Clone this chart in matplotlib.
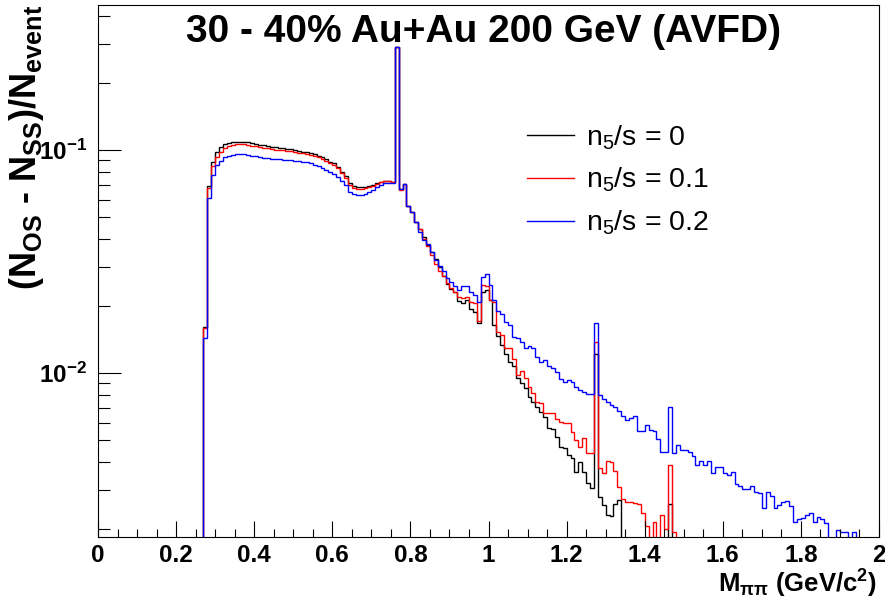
import numpy as np
import matplotlib
matplotlib.use("Agg")
import matplotlib.pyplot as plt
from matplotlib.ticker import MultipleLocator, LogLocator, FuncFormatter, NullFormatter

plt.rcParams["font.family"] = ["Liberation Sans", "DejaVu Sans"]
plt.rcParams["font.weight"] = "bold"
plt.rcParams["mathtext.default"] = "regular"

# histogram binning: 200 bins of 0.01 GeV/c^2, first filled bin is 0.27-0.28
n_bins = 200
m_min, m_max = 0.0, 2.0
first_bin = 27

# (N_OS - N_SS)/N_event per bin, starting at first_bin, empty bins are 0
black = [0.0161, 0.0692, 0.0883, 0.0980, 0.1028, 0.1061, 0.1075, 0.1083, 0.1090, 0.1090,
         0.1090, 0.1086, 0.1075, 0.1064, 0.1053, 0.1050, 0.1042, 0.1035, 0.1028, 0.1024,
         0.1018, 0.1010, 0.1007, 0.1000, 0.0990, 0.0983, 0.0977, 0.0967, 0.0957, 0.0943,
         0.0927, 0.0908, 0.0886, 0.0872, 0.0842, 0.0799, 0.0765, 0.0709, 0.0690, 0.0680,
         0.0680, 0.0685, 0.0690, 0.0697, 0.0709, 0.0721, 0.0726, 0.0726, 0.0721, 0.289,
         0.0667, 0.0702, 0.0563, 0.0526, 0.0475, 0.0442, 0.0407, 0.0375, 0.0349, 0.0325,
         0.0299, 0.0272, 0.0251, 0.0238, 0.0231, 0.0210, 0.0206, 0.0213, 0.0194, 0.0188,
         0.0168, 0.0231, 0.0236, 0.0213, 0.0164, 0.0146, 0.0134, 0.0122, 0.0112, 0.0107,
         0.00947, 0.00905, 0.00854, 0.00783, 0.00743, 0.00702, 0.00670, 0.00637, 0.00565, 0.00561,
         0.00518, 0.00467, 0.00459, 0.00429, 0.00417, 0.00361, 0.00400, 0.00361, 0.00322, 0.00304,
         0.0122, 0.00279, 0.00256, 0.00231, 0.00228, 0.00260, 0.00269, 0, 0, 0,
         0, 0, 0, 0, 0, 0, 0, 0, 0, 0.00258]

red = [0.0159, 0.0673, 0.0848, 0.0933, 0.0983, 0.1018, 0.1042, 0.1056, 0.1061, 0.1064,
       0.1061, 0.1053, 0.1045, 0.1039, 0.1031, 0.1024, 0.1018, 0.1010, 0.1003, 0.1000,
       0.0997, 0.0990, 0.0987, 0.0979, 0.0973, 0.0967, 0.0960, 0.0950, 0.0940, 0.0927,
       0.0911, 0.0893, 0.0872, 0.0857, 0.0828, 0.0786, 0.0747, 0.0697, 0.0675, 0.0668,
       0.0668, 0.0675, 0.0682, 0.0692, 0.0706, 0.0719, 0.0724, 0.0724, 0.0717, 0.289,
       0.0660, 0.0702, 0.0563, 0.0526, 0.0475, 0.0442, 0.0399, 0.0371, 0.0338, 0.0308,
       0.0287, 0.0272, 0.0253, 0.0241, 0.0231, 0.0219, 0.0217, 0.0219, 0.0208, 0.0206,
       0.0171, 0.0248, 0.0246, 0.0213, 0.0209, 0.0153, 0.0148, 0.0130, 0.0130, 0.0116,
       0.00980, 0.0102, 0.00947, 0.00868, 0.00816, 0.00743, 0.00736, 0.00664, 0.00664, 0.00659,
       0.00620, 0.00605, 0.00598, 0.00594, 0.00545, 0.00500, 0.00467, 0.00509, 0.00436, 0.00436,
       0.0138, 0.00374, 0.00355, 0.00404, 0.00400, 0.00363, 0.00309, 0.00271, 0.00265, 0.00263,
       0.00262, 0.00258, 0.00235, 0.00206, 0, 0.00215, 0, 0.00231, 0.00199, 0.00385,
       0.00194]

blue = [0.0144, 0.0607, 0.0773, 0.0857, 0.0895, 0.0927, 0.0943, 0.0953, 0.0957, 0.0960,
        0.0957, 0.0950, 0.0943, 0.0937, 0.0930, 0.0924, 0.0921, 0.0914, 0.0911, 0.0908,
        0.0905, 0.0902, 0.0899, 0.0895, 0.0893, 0.0886, 0.0881, 0.0872, 0.0859, 0.0845,
        0.0830, 0.0813, 0.0797, 0.0781, 0.0757, 0.0726, 0.0697, 0.0650, 0.0635, 0.0630,
        0.0630, 0.0637, 0.0648, 0.0662, 0.0680, 0.0697, 0.0709, 0.0713, 0.0711, 0.289,
        0.0672, 0.0702, 0.0563, 0.0526, 0.0475, 0.0429, 0.0395, 0.0379, 0.0349, 0.0321,
        0.0302, 0.0287, 0.0267, 0.0256, 0.0246, 0.0236, 0.0246, 0.0246, 0.0231, 0.0224,
        0.0209, 0.0270, 0.0277, 0.0248, 0.0213, 0.0190, 0.0184, 0.0170, 0.0164, 0.0145,
        0.0143, 0.0138, 0.0129, 0.0132, 0.0129, 0.0118, 0.0112, 0.0115, 0.0107, 0.0105,
        0.0101, 0.00937, 0.00914, 0.00930, 0.00914, 0.00868, 0.00839, 0.00824, 0.00802, 0.00802,
        0.0168, 0.00797, 0.00764, 0.00741, 0.00722, 0.00704, 0.00675, 0.00641, 0.00615, 0.00626,
        0.00641, 0.00552, 0.00552, 0.00587, 0.00557, 0.00548, 0.00506, 0.00441, 0.00441, 0.00702,
        0.00440, 0.00478, 0.00451, 0.00451, 0.00441, 0.00423, 0.00387, 0.00403, 0.00387, 0.00403,
        0.00355, 0.00380, 0.00378, 0.00357, 0.00349, 0.00359, 0.00318, 0.00311, 0.00301, 0.00301,
        0.00311, 0.00293, 0.00289, 0.00249, 0.00293, 0.00281, 0.00249, 0.00256, 0.00265, 0.00267,
        0.00253, 0.00215, 0.00221, 0.00225, 0.00231, 0.00235, 0.00215, 0.00227, 0.00221, 0.00213,
        0, 0, 0.00198, 0.00193, 0.00193, 0, 0.00194]

labels = ["n$_{5}$/s = 0", "n$_{5}$/s = 0.1", "n$_{5}$/s = 0.2"]
colors = ["black", "red", "blue"]
y_range = (0.00184, 0.447)

edges = np.linspace(m_min, m_max, n_bins + 1)

fig = plt.figure(figsize=(8.85, 6.06), dpi=100)
ax = fig.add_axes([98 / 885, 1 - 537 / 606, 781 / 885, 532 / 606])

for vals, color, label in zip([black, red, blue], colors, labels):
    h = np.zeros(n_bins)
    h[first_bin:first_bin + len(vals)] = vals
    # empty bins fall below the frame, the way ROOT draws them on a log axis
    h = np.where(h > 0, h, 1e-6)
    ax.stairs(h, edges, color=color, lw=1.0, label=label, baseline=None)

ax.set_xlim(m_min, m_max)
ax.set_yscale("log")
ax.set_ylim(*y_range)

ax.xaxis.set_major_locator(MultipleLocator(0.2))
ax.xaxis.set_minor_locator(MultipleLocator(0.05))
ax.xaxis.set_major_formatter(FuncFormatter(lambda v, p: f"{v:g}"))
ax.yaxis.set_major_locator(LogLocator(base=10))
ax.yaxis.set_minor_locator(LogLocator(base=10, subs=np.arange(2, 10)))
ax.yaxis.set_major_formatter(FuncFormatter(lambda v, p: "10$^{%d}$" % round(np.log10(v))))
ax.yaxis.set_minor_formatter(NullFormatter())

ax.tick_params(axis="x", which="major", direction="in", length=11.5, width=0.8,
               labelsize=17.5, pad=5, top=False)
ax.tick_params(axis="x", which="minor", direction="in", length=5.8, width=0.8, top=False)
ax.tick_params(axis="y", which="major", direction="in", length=16.5, width=0.8,
               labelsize=17.5, pad=8, right=False)
ax.tick_params(axis="y", which="minor", direction="in", length=8.5, width=0.8, right=False)
for s in ax.spines.values():
    s.set_linewidth(0.8)

fig.text(0.5463, 0.948, "30 - 40% Au+Au 200 GeV (AVFD)", ha="center", va="center",
         fontsize=28, weight="bold")
fig.text(877 / 885, 1 - 584 / 606, "M$_{\\pi\\pi}$ (GeV/c$^{2}$)", ha="right", va="center",
         fontsize=18.5)
fig.text(27 / 885, 1 - 5 / 606, "(N$_{OS}$ - N$_{SS}$)/N$_{event}$", rotation=90,
         ha="center", va="top", fontsize=26)

ax.legend(loc="upper left", bbox_to_anchor=(0.5493, 0.778), frameon=False, borderpad=0,
          borderaxespad=0, handlelength=1.65, handletextpad=0.41, labelspacing=0.5,
          prop={"weight": "normal", "size": 20.5})

fig.savefig("out.png", dpi=100)
